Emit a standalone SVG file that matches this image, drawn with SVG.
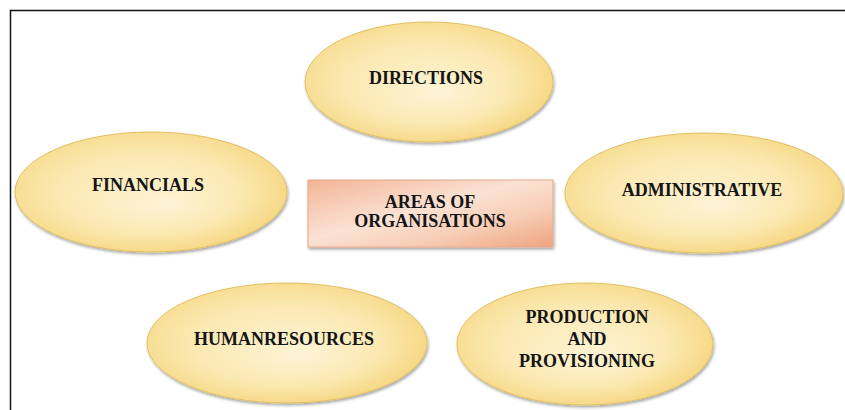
<svg xmlns="http://www.w3.org/2000/svg" width="845" height="410" viewBox="0 0 845 410">
<defs>
<radialGradient id="gold" cx="0.45" cy="0.45" r="0.6" fx="0.55" fy="0.6">
<stop offset="0" stop-color="#fdf3d6"/>
<stop offset="0.55" stop-color="#fbe9b2"/>
<stop offset="1" stop-color="#f5d57c"/>
</radialGradient>
<linearGradient id="peach" x1="0" y1="0" x2="1" y2="1">
<stop offset="0" stop-color="#f3b496"/>
<stop offset="0.45" stop-color="#fbe2d4"/>
<stop offset="0.7" stop-color="#f7cdb5"/>
<stop offset="1" stop-color="#eea47f"/>
</linearGradient>
<filter id="sh" x="-10%" y="-10%" width="125%" height="130%">
<feGaussianBlur in="SourceAlpha" stdDeviation="1.5"/>
<feOffset dx="1" dy="2" result="b"/>
<feComponentTransfer><feFuncA type="linear" slope="0.35"/></feComponentTransfer>
<feMerge><feMergeNode/><feMergeNode in="SourceGraphic"/></feMerge>
</filter>
</defs>
<style>
.ell{fill:url(#gold);stroke:#e2bf5e;stroke-width:1;filter:url(#sh)}
.box{fill:url(#peach);stroke:#e8a88a;stroke-width:1;filter:url(#sh)}
.t{font-family:"Liberation Serif","Times New Roman",serif;font-weight:bold;font-size:18px;fill:#151515;text-anchor:middle}
</style>
<rect width="845" height="410" fill="#ffffff"/>
<path d="M10.5 410 V10.5 H845" fill="none" stroke="#111" stroke-width="1.5"/>
<g id="connectors"></g>
<g id="directions">
<ellipse class="ell" cx="429" cy="82" rx="124" ry="60"/>
<text class="t" x="426" y="84">DIRECTIONS</text>
</g>
<g id="financials">
<ellipse class="ell" cx="151" cy="192" rx="136" ry="60"/>
<text class="t" x="148" y="191">FINANCIALS</text>
</g>
<g id="administrative">
<ellipse class="ell" cx="704" cy="193" rx="139" ry="60"/>
<text class="t" x="702" y="196">ADMINISTRATIVE</text>
</g>
<g id="center">
<rect class="box" x="308" y="180" width="245" height="67"/>
<text class="t" x="430" y="208">AREAS OF</text>
<text class="t" x="430" y="227">ORGANISATIONS</text>
</g>
<g id="humanresources">
<ellipse class="ell" cx="287" cy="343" rx="140" ry="60"/>
<text class="t" x="284" y="345">HUMANRESOURCES</text>
</g>
<g id="production">
<ellipse class="ell" cx="585" cy="344" rx="128" ry="61"/>
<text class="t" x="587" y="323">PRODUCTION</text>
<text class="t" x="587" y="345">AND</text>
<text class="t" x="587" y="367">PROVISIONING</text>
</g>
</svg>
